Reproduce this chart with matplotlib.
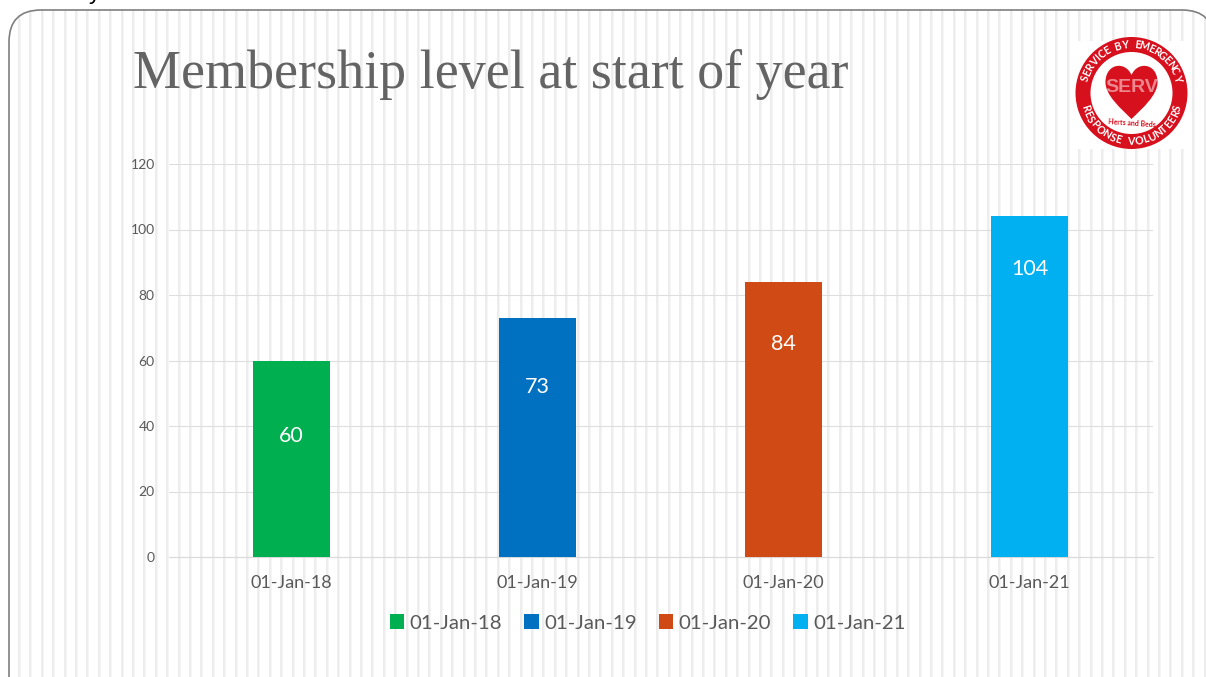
import numpy as np
import matplotlib
matplotlib.use('Agg')
import matplotlib.pyplot as plt
from matplotlib.patches import Circle, Rectangle, PathPatch
from matplotlib.path import Path
from matplotlib.textpath import TextPath
from matplotlib.font_manager import FontProperties

W, H = 1206, 677

dates = ['01-Jan-18', '01-Jan-19', '01-Jan-20', '01-Jan-21']
members = [60, 73, 84, 104]
colours = ['#00B050', '#0070C0', '#D04A16', '#00B0F0']
yticks = [0, 20, 40, 60, 80, 100, 120]
label_heights = [37, 52, 65, 88]
title = 'Membership level at start of year'
logo_top = 'SERVICE BY EMERGENCY'
logo_bottom = 'RESPONSE VOLUNTEERS'

red = '#D7101E'
grey = '#595959'

plt.rcParams['font.family'] = ['Lato', 'DejaVu Sans']

fig = plt.figure(figsize=(W/100, H/100), dpi=100, facecolor='white')

# background layer in pixel coordinates
bg = fig.add_axes([0, 0, 1, 1], zorder=0)
bg.set_xlim(0, W)
bg.set_ylim(H, 0)
bg.axis('off')

# slide frame, rounded at the top only, runs off the right and bottom
fx0, fx1, fy0, fy1, r = 9, 1214, 10, H+6, 32
frame_path = Path([(fx0, fy1), (fx0, fy0+r), (fx0, fy0), (fx0+r, fy0), (fx1-r, fy0),
                   (fx1, fy0), (fx1, fy0+r), (fx1, fy1), (fx0, fy1)],
                  [Path.MOVETO, Path.LINETO, Path.CURVE3, Path.CURVE3, Path.LINETO,
                   Path.CURVE3, Path.CURVE3, Path.LINETO, Path.CLOSEPOLY])
frame = PathPatch(frame_path, fc='white', ec='none', zorder=1)
bg.add_patch(frame)
for x in np.arange(19, W, 11.4):
    for w, c in [(3.0, '#F5F5F5'), (1.5, '#EBEBEB')]:
        ln = bg.plot([x, x], [0, H], color=c, lw=w*0.72, zorder=2, solid_capstyle='butt')[0]
        ln.set_clip_path(frame)
bg.add_patch(PathPatch(frame_path, fc='none', ec='#7F7F7F', lw=1.2, zorder=3))

# stray descender from the slide above
bg.text(89, -1, 'y', fontsize=17, color='black', va='baseline', ha='left', zorder=3,
        family='Liberation Sans', clip_on=True)

bg.text(133, 88, title, fontsize=38.9, color='#646464', family='Liberation Serif',
        va='baseline', ha='left', zorder=3)

# logo
cx, cy = 1131.5, 93
bg.add_patch(Rectangle((1077, 41), 111, 108, fc='white', ec='none', zorder=3))
bg.add_patch(Circle((cx, cy), 56, fc=red, ec='none', zorder=4))
bg.add_patch(Circle((cx, cy), 41, fc='white', ec='none', zorder=5))

verts = [(cx, cy+26), (cx-10, cy+16), (cx-27, cy+2), (cx-26, cy-12),
         (cx-25, cy-30), (cx-6, cy-32), (cx, cy-18),
         (cx+6, cy-32), (cx+25, cy-30), (cx+26, cy-12),
         (cx+27, cy+2), (cx+10, cy+16), (cx, cy+26)]
codes = [Path.MOVETO] + [Path.CURVE4]*12
bg.add_patch(PathPatch(Path(verts, codes), fc=red, ec='none', zorder=6))
bg.text(cx, cy-5, 'SERV', color='white', fontsize=14, fontweight='bold', family='Liberation Sans',
        ha='center', va='center', zorder=7, alpha=0.5)
bg.text(cx, cy+30, 'Herts and Beds', color=red, fontsize=5, fontweight='bold',
        ha='center', va='center', zorder=7, rotation=-4)

ring_font = FontProperties(family='Lato', weight='bold')

def ring_text(txt, radius, mid, span, flip):
    # spread the letters around the ring according to their own widths
    wd = [TextPath((0, 0), c if c != ' ' else 'n', size=7.6, prop=ring_font).get_extents().width + 1.2
          for c in txt]
    wd = np.array(wd)
    s = np.cumsum(wd) - wd/2
    s = s/wd.sum()*span - span/2
    for off, ch in zip(s, txt):
        a = mid - off if flip else mid + off
        t = np.deg2rad(a)
        x = cx + radius*np.sin(t)
        y = cy - radius*np.cos(t)
        rot = -a if not flip else 180-a
        bg.text(x, y, ch, color='white', fontsize=7.6, fontweight='bold',
                ha='center', va='center', rotation=rot, zorder=7)

ring_text(logo_top, 48.5, 0, 152, False)
ring_text(logo_bottom, 48.5, 180, 152, True)

# chart
left, right, top, bottom = 168.5, 1152.5, 164, 557
ax = fig.add_axes([left/W, 1-bottom/H, (right-left)/W, (bottom-top)/H], zorder=2)
ax.patch.set_alpha(0)
pos = np.arange(len(dates))
bars = ax.bar(pos, members, width=0.313, color=colours, zorder=3)
ax.set_xlim(-0.5, 3.5)
ax.set_ylim(0, 120)
ax.set_yticks(yticks)
ax.set_xticks(pos)
ax.set_xticklabels(dates)
ax.grid(axis='y', color='#DEDEDE', lw=0.8, zorder=1)
ax.set_axisbelow(True)
for s in ['top', 'right', 'left']:
    ax.spines[s].set_visible(False)
ax.spines['bottom'].set_color('#D9D9D9')
ax.spines['bottom'].set_linewidth(0.8)
ax.tick_params(axis='both', length=0, labelcolor=grey)
ax.tick_params(axis='x', labelsize=13, pad=13)
ax.tick_params(axis='y', labelsize=10, pad=10)

for p, v, h in zip(pos, members, label_heights):
    ax.text(p, h, str(v), color='white', fontsize=15.5, ha='center', va='center', zorder=4)

handles = [Rectangle((0, 0), 1, 1, fc=c, ec='none') for c in colours]
leg = fig.legend(handles, dates, loc='center', bbox_to_anchor=(647.5/W, 1-623/H), ncol=4,
                 frameon=False, fontsize=14.7, labelcolor=grey, handlelength=0.72, handleheight=0.72,
                 handletextpad=0.25, columnspacing=1.085, borderpad=0)

fig.savefig('out.png', dpi=100)
